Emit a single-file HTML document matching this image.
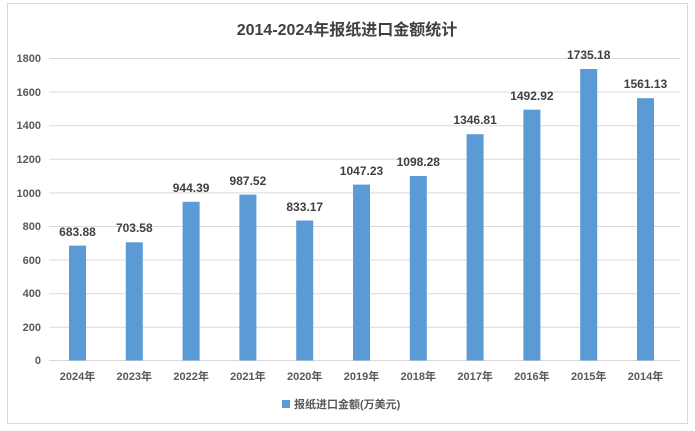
<!DOCTYPE html>
<html><head><meta charset="utf-8"><style>
body{margin:0;background:#fff;}
svg{display:block;font-family:"Liberation Sans","Noto Sans CJK SC",sans-serif;}
</style></head><body>
<svg width="695" height="431" viewBox="0 0 695 431">
<rect x="7.5" y="3.5" width="680" height="420" fill="#fff" stroke="#d9d9d9"/>
<text x="347" y="35" text-anchor="middle" font-size="16" font-weight="bold" fill="#404040">2014-2024年报纸进口金额统计</text>
<g stroke="#d9d9d9" stroke-width="1">
<line x1="49" x2="680" y1="58.5" y2="58.5"/>
<line x1="49" x2="680" y1="92.1" y2="92.1"/>
<line x1="49" x2="680" y1="125.7" y2="125.7"/>
<line x1="49" x2="680" y1="159.3" y2="159.3"/>
<line x1="49" x2="680" y1="192.9" y2="192.9"/>
<line x1="49" x2="680" y1="226.5" y2="226.5"/>
<line x1="49" x2="680" y1="260.1" y2="260.1"/>
<line x1="49" x2="680" y1="293.7" y2="293.7"/>
<line x1="49" x2="680" y1="327.3" y2="327.3"/>
<line x1="49" x2="680" y1="360.5" y2="360.5"/>
</g>
<g font-size="11" font-weight="bold" fill="#595959" text-anchor="end">
<text x="41" y="62">1800</text><text x="41" y="96">1600</text><text x="41" y="129">1400</text>
<text x="41" y="163">1200</text><text x="41" y="197">1000</text><text x="41" y="230">800</text>
<text x="41" y="264">600</text><text x="41" y="297">400</text><text x="41" y="331">200</text>
<text x="41" y="364">0</text>
</g>
<g fill="#5b9bd5">
<rect x="69" y="245.6" width="17" height="114.9"/>
<rect x="125.8" y="242.3" width="17" height="118.2"/>
<rect x="182.6" y="201.8" width="17" height="158.7"/>
<rect x="239.4" y="194.6" width="17" height="165.9"/>
<rect x="296.2" y="220.5" width="17" height="140"/>
<rect x="353" y="184.6" width="17" height="175.9"/>
<rect x="409.8" y="176" width="17" height="184.5"/>
<rect x="466.6" y="134.2" width="17" height="226.3"/>
<rect x="523.4" y="109.7" width="17" height="250.8"/>
<rect x="580.2" y="69" width="17" height="291.5"/>
<rect x="637" y="98.2" width="17" height="262.3"/>
</g>
<g font-size="12" font-weight="bold" fill="#404040" text-anchor="middle">
<text x="77.5" y="236">683.88</text>
<text x="134.3" y="232">703.58</text>
<text x="191.1" y="192">944.39</text>
<text x="247.9" y="185">987.52</text>
<text x="304.7" y="211">833.17</text>
<text x="361.5" y="175">1047.23</text>
<text x="418.3" y="166">1098.28</text>
<text x="475.1" y="124">1346.81</text>
<text x="531.9" y="100">1492.92</text>
<text x="588.7" y="59">1735.18</text>
<text x="645.5" y="88">1561.13</text>
</g>
<g font-size="11" font-weight="bold" fill="#595959" text-anchor="middle">
<text x="77.5" y="380">2024年</text><text x="134.3" y="380">2023年</text><text x="191.1" y="380">2022年</text>
<text x="247.9" y="380">2021年</text><text x="304.7" y="380">2020年</text><text x="361.5" y="380">2019年</text>
<text x="418.3" y="380">2018年</text><text x="475.1" y="380">2017年</text><text x="531.9" y="380">2016年</text>
<text x="588.7" y="380">2015年</text><text x="645.5" y="380">2014年</text>
</g>
<rect x="282" y="400" width="8" height="8" fill="#5b9bd5"/>
<text x="294" y="408" font-size="11" font-weight="bold" fill="#595959">报纸进口金额(万美元)</text>
</svg>
</body></html>
